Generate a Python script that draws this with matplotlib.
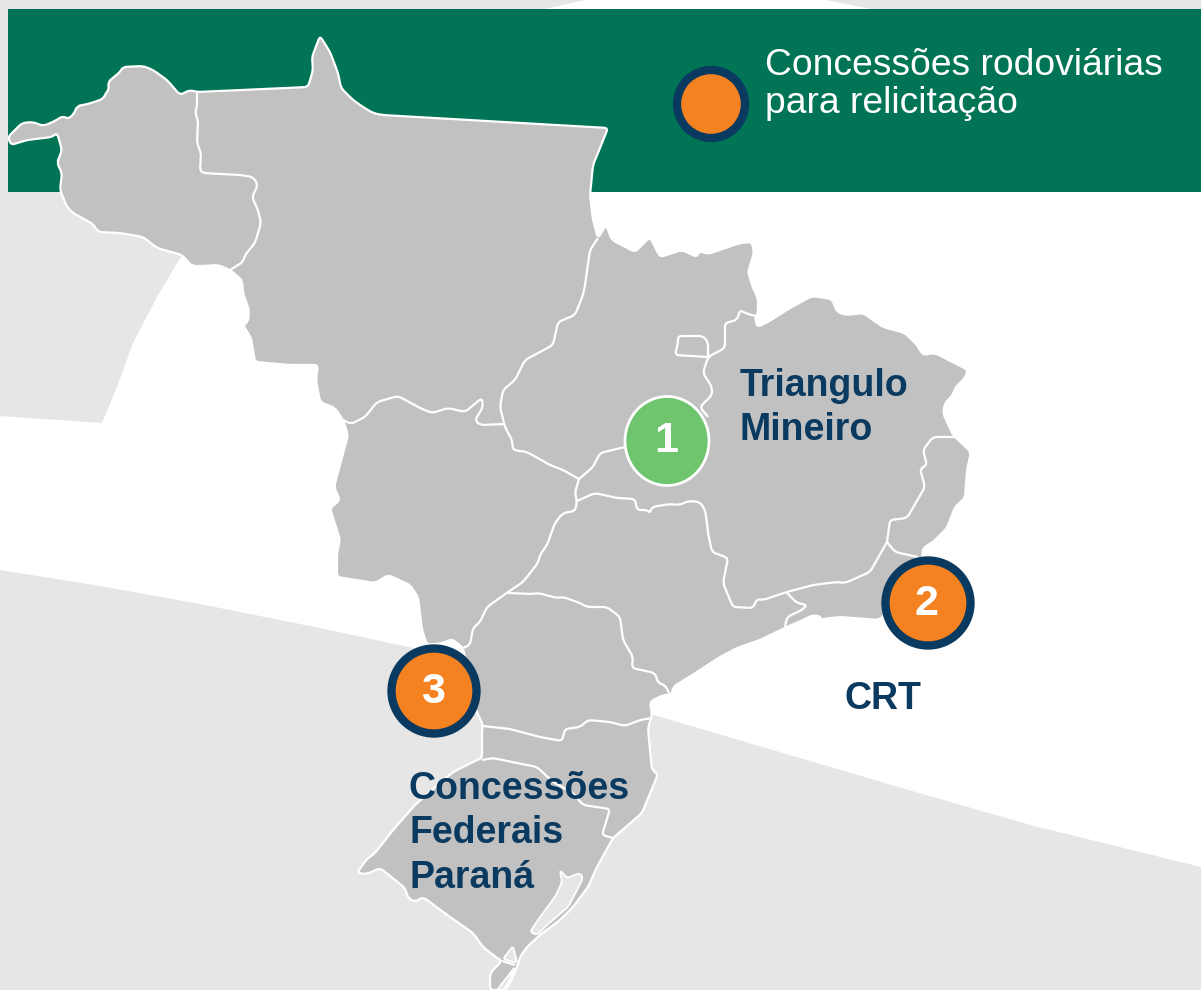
import matplotlib
matplotlib.use('Agg')
import matplotlib.pyplot as plt
from matplotlib.path import Path
from matplotlib.patches import PathPatch, Polygon, Rectangle, Ellipse

plt.rcParams['font.family'] = ['Liberation Sans', 'DejaVu Sans']

GREEN = '#007455'
GREY = '#c1c1c1'
LIGHT = '#e6e6e6'
NAVY = '#0a3a5f'
ORANGE = '#f58220'
LEAF = '#6fc56e'

# map outline and borders (pixel positions)
outline = [(8,137),(22,123),(33,122),(43,126),(53,122),(63,116),(68,119),(74,114),(77,106),(88,104),(103,99),
           (106,93),(109,89),(108,82),(120,72),(123,67),(143,66),(153,70),(167,80),(180,95),(190,90),(197,92),
           (308,87),(313,70),(312,57),(320,36),(330,52),(338,73),(341,88),(353,100),(363,107),(373,113),(382,115),
           (608,128),(600,148),(593,165),(590,195),(593,220),(598,238),(606,225),(612,240),(635,252),(650,237),
           (660,257),(682,250),(697,257),(699,251),(708,254),(740,243),(752,242),(754,253),(748,272),(753,288),
           (758,298),(758,313),(755,317),(757,327),(768,322),(790,308),(812,296),(832,299),(837,312),(847,315),
           (863,313),(883,327),(905,333),(917,345),(923,355),(935,353),(968,370),(965,378),(955,388),(953,395),
           (945,403),(943,413),(953,435),(971,452),(967,470),(965,498),(955,507),(947,528),(933,542),(923,548),
           (922,558),(900,600),(879,620),(840,617),(815,620),(822,617),(813,615),(803,620),(787,627),(760,640),
           (737,648),(720,657),(697,672),(673,687),(672,695),(663,695),(650,702),(652,715),(648,728),(650,750),
           (652,770),(658,774),(642,813),(613,838),(597,867),(588,887),(573,907),(560,920),(540,935),(527,947),
           (520,957),(517,967),(510,983),(505,990),(490,990),(490,973),(502,961),(497,958),(483,947),(473,933),
           (450,917),(423,897),(415,902),(408,898),(405,888),(380,868),(367,874),(357,873),(366,860),(375,853),
           (393,830),(415,805),(440,783),(453,772),(477,760),(482,758),(482,730),(483,725),(475,708),(463,648),
           (452,639),(443,643),(427,645),(422,630),(418,597),(410,585),(388,575),(375,583),(337,577),(337,553),
           (340,540),(330,508),(340,500),(334,487),(348,435),(343,420),(335,408),(320,402),(316,380),(318,365),
           (290,365),(255,362),(251,338),(243,325),(248,322),(249,310),(243,293),(242,280),(230,270),(218,265),
           (203,266),(192,266),(182,255),(157,248),(143,237),(120,233),(98,232),(93,224),(73,213),(67,207),(60,190),
           (62,173),(57,163),(62,150),(57,133),(52,137),(27,140),(11,145)]

borders = [
    [(197,93),(197,107),(195,113),(198,120),(197,143),(201,153),(200,170),(203,173),(240,175),(253,177),(258,185),
     (252,197),(258,210),(261,223),(255,243),(245,255),(243,262),(230,270)],
    [(598,238),(590,250),(585,285),(583,295),(575,315),(558,322),(553,345),(525,360),(515,380),(503,390),(500,407),
     (505,427),(512,440),(513,450),(527,452),(550,465),(563,470),(579,479)],
    [(505,424),(480,425),(475,420),(483,407),(482,398),(465,412),(448,408),(432,413),(420,408),(398,396),(377,402),
     (365,417),(351,424),(343,420)],
    [(579,479),(575,492),(577,502),(575,511),(563,513),(555,523),(547,545),(540,555),(538,563),(523,582),(508,592),
     (497,600),(487,607),(480,622),(473,628),(470,645),(463,648)],
    [(579,479),(593,467),(600,453),(625,447)],
    [(577,501),(595,493),(617,498),(635,499),(637,510),(647,510),(650,513),(652,507),(670,504),(680,505),(688,501),
     (700,502),(705,510),(707,523),(708,533),(712,552),(728,558),(723,583),(733,607),(753,608),(757,599),(763,600),
     (787,592),(813,585),(837,582),(845,583),(870,572),(887,542)],
    [(887,542),(890,520),(907,518),(925,487),(920,469),(927,465),(923,450),(933,437),(955,437)],
    [(887,542),(895,552),(918,557)],
    [(787,593),(797,603),(807,605),(802,610),(787,617),(785,627)],
    [(755,316),(745,313),(740,310),(737,320),(725,323),(725,348),(708,357),(703,373),(712,387),(712,395),(700,407),
     (708,417)],
    [(708,357),(675,355),(678,343),(678,336),(703,336),(708,342),(708,357)],
    [(508,593),(533,594),(538,593),(557,598),(563,597),(580,603),(587,607),(607,607),(620,617),(623,640),(633,657),
     (632,668),(655,673),(658,683),(665,685),(670,695)],
    [(483,726),(510,729),(540,737),(562,741),(565,729),(580,727),(588,720),(610,722),(625,726),(640,720),(652,718)],
    [(482,760),(493,758),(517,763),(537,767),(553,782),(573,793),(583,805),(610,809),(602,835),(613,838)],
    [(502,961),(515,965)],
]

lagoons = [
    [(560,870),(567,878),(580,873),(583,878),(577,890),(568,907),(547,925),(537,935),(530,932),(540,917),(555,897),
     (562,882)],
    [(513,946),(517,963),(503,959)],
    [(515,967),(507,985),(503,990),(497,990)],
]

# background shapes
left_patch = [(0,0),(585,0),(545,9),(8,9),(8,192),(188,192),(182,255),(157,297),(133,343),(117,387),(102,423),(0,416)]
top_patch = [(826,0),(1201,0),(1201,9),(871,9)]
low_band = [(0,570),(100,586),(200,604),(320,628),(413,648),(540,682),(654,715),(783,753),(919,793),(1034,826),(1201,867),
            (1201,990),(0,990)]

legend_lines = ['Concessões rodoviárias', 'para relicitação']
legend_y = [75, 113]
marker_labels = ['1', '2', '3']
marker_xy = [(667,441), (928,603), (434,691)]
marker_text_xy = [(666,452), (927,615), (433,703)]
marker_colors = [LEAF, ORANGE, ORANGE]
place_labels = [('Triangulo', 740, 396), ('Mineiro', 740, 440), ('CRT', 844, 709),
                ('Concessões', 409, 799), ('Federais', 409, 843), ('Paraná', 409, 888)]


def round_path(pts, closed=False, r=5.0):
    # cut each corner with a short bezier so the borders are not jagged
    verts = [pts[0]]
    codes = [Path.MOVETO]
    n = len(pts)
    idx = range(n) if closed else range(1, n - 1)
    first = True
    for i in idx:
        p0, p1, p2 = pts[i - 1], pts[i], pts[(i + 1) % n]
        d1 = max(((p1[0]-p0[0])**2 + (p1[1]-p0[1])**2)**0.5, 1e-6)
        d2 = max(((p2[0]-p1[0])**2 + (p2[1]-p1[1])**2)**0.5, 1e-6)
        a = min(r, d1 / 2) / d1
        b = min(r, d2 / 2) / d2
        start = (p1[0] + (p0[0]-p1[0]) * a, p1[1] + (p0[1]-p1[1]) * a)
        end = (p1[0] + (p2[0]-p1[0]) * b, p1[1] + (p2[1]-p1[1]) * b)
        if first and closed:
            verts = [start]
            codes = [Path.MOVETO]
        else:
            verts.append(start)
            codes.append(Path.LINETO)
        first = False
        verts += [p1, end]
        codes += [Path.CURVE3, Path.CURVE3]
    if closed:
        verts.append(verts[0])
        codes.append(Path.CLOSEPOLY)
    else:
        verts.append(pts[-1])
        codes.append(Path.LINETO)
    return Path(verts, codes)


fig = plt.figure(figsize=(12.01, 9.9), dpi=100)
ax = fig.add_axes([0, 0, 1, 1])
ax.set_xlim(0, 1201)
ax.set_ylim(990, 0)
ax.axis('off')

ax.add_patch(Polygon(left_patch, fc=LIGHT, ec='none', zorder=1))
ax.add_patch(Polygon(top_patch, fc=LIGHT, ec='none', zorder=1))
ax.add_patch(Polygon(low_band, fc=LIGHT, ec='none', zorder=1))
ax.add_patch(Rectangle((8, 9), 1193, 183, fc=GREEN, ec='none', zorder=2))

ax.add_patch(PathPatch(round_path(outline, closed=True, r=4), fc=GREY, ec='white', lw=1.6, zorder=3))
for b in borders:
    ax.add_patch(PathPatch(round_path(b, r=4), fc='none', ec='white', lw=1.6, zorder=4))
for lag in lagoons:
    ax.add_patch(PathPatch(round_path(lag, closed=True, r=3), fc=LIGHT, ec='white', lw=1.3, zorder=4))

# markers
for lab, (x, y), (tx, ty), col in zip(marker_labels, marker_xy, marker_text_xy, marker_colors):
    if lab == '1':
        ax.add_patch(Ellipse((x, y), 84, 89, fc=col, ec='white', lw=2, zorder=5))
    else:
        ax.add_patch(Ellipse((x, y), 85, 85, fc=col, ec=NAVY, lw=6, zorder=5))
    ax.text(tx, ty, lab, color='white', fontsize=31, fontweight='bold', ha='center', va='baseline', zorder=6)

# legend
ax.add_patch(Ellipse((711, 104), 68, 68, fc=ORANGE, ec=NAVY, lw=6, zorder=5))
for line, y in zip(legend_lines, legend_y):
    ax.text(765, y, line, color='white', fontsize=26.8, ha='left', va='baseline', zorder=6)

for txt, x, y in place_labels:
    ax.text(x, y, txt, color=NAVY, fontsize=27, fontweight='bold', ha='left', va='baseline', zorder=6)

fig.savefig('out.png', dpi=100)
